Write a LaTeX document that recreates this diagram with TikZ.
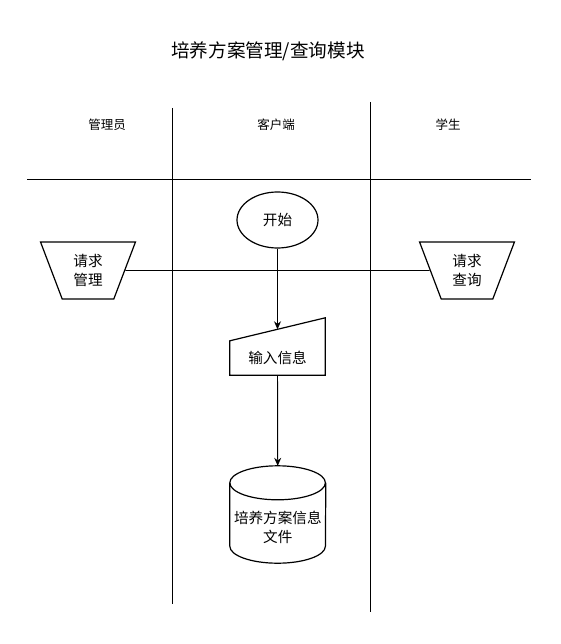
\documentclass[tikz,border=0pt]{standalone}
\usepackage{fontspec}
\setmainfont{Noto Sans CJK SC}
\usetikzlibrary{shapes.geometric,arrows.meta}

\begin{document}
\begin{tikzpicture}[x=1pt,y=-1pt,
    lane/.style={line width=0.9pt},
    txt/.style={font=\fontsize{12.5}{15}\selectfont, inner sep=0pt},
    bodytxt/.style={font=\fontsize{14.6}{18.5}\selectfont, inner sep=0pt, align=center},
    shapebox/.style={draw, line width=1.2pt, bodytxt},
    outline/.style={line width=1.2pt},
    flow/.style={line width=0.9pt, -{Stealth[length=8pt,width=7pt]}}]
    \useasboundingbox (0,0) rectangle (561,644);

    % Title
    \node[font=\fontsize{18.6}{22}\selectfont, inner sep=0pt] (title) at (268,51) {培养方案管理/查询模块};

    % Lanes
    \draw[lane] (27,179) -- (531,179);
    \draw[lane] (172,108) -- (172,604);
    \draw[lane] (370,102) -- (370,612);
    \node[txt] (mgrhead) at (107,125) {管理员};
    \node[txt] (clienthead) at (276,125) {客户端};
    \node[txt] (stuhead) at (448,125) {学生};

    % Start
    \node[shapebox, ellipse, minimum width=81, minimum height=56] (start) at (277.5,220) {开始};

    % Requests
    \node[shapebox, trapezium, trapezium stretches=true, shape border rotate=180,
          trapezium angle=69, minimum width=95, minimum height=57] (mgr) at (88,270.5) {请求\\管理};
    \node[shapebox, trapezium, trapezium stretches=true, shape border rotate=180,
          trapezium angle=69, minimum width=95, minimum height=57] (stu) at (467,270.5) {请求\\查询};
    \draw[lane] (mgr) -- (stu);

    % Manual input
    \node[bodytxt, minimum width=95, minimum height=34] (input) at (277.5,358) {输入信息};
    \draw[outline] (input.south west) -- (input.north west)
        -- ([yshift=23pt]input.north east) -- (input.south east) -- cycle;
    \coordinate (intop) at ([yshift=11.5pt]input.north);

    % File (cylinder)
    \node[inner sep=0pt, minimum width=95.6, minimum height=97] (file) at (277.8,514.5) {};
    \draw[outline] ([yshift=-17pt]file.north west)
        arc[start angle=180, end angle=-180, x radius=47.8pt, y radius=17pt];
    \draw[outline] ([yshift=-17pt]file.north west) -- ([yshift=17pt]file.south west)
        arc[start angle=180, end angle=360, x radius=47.8pt, y radius=17pt]
        -- ([yshift=-17pt]file.north east);
    \node[bodytxt] (filetxt) at (277.8,527.5) {培养方案信息\\文件};

    \draw[flow] (start) -- (intop);
    \draw[flow] (input) -- (file);
\end{tikzpicture}
\end{document}
